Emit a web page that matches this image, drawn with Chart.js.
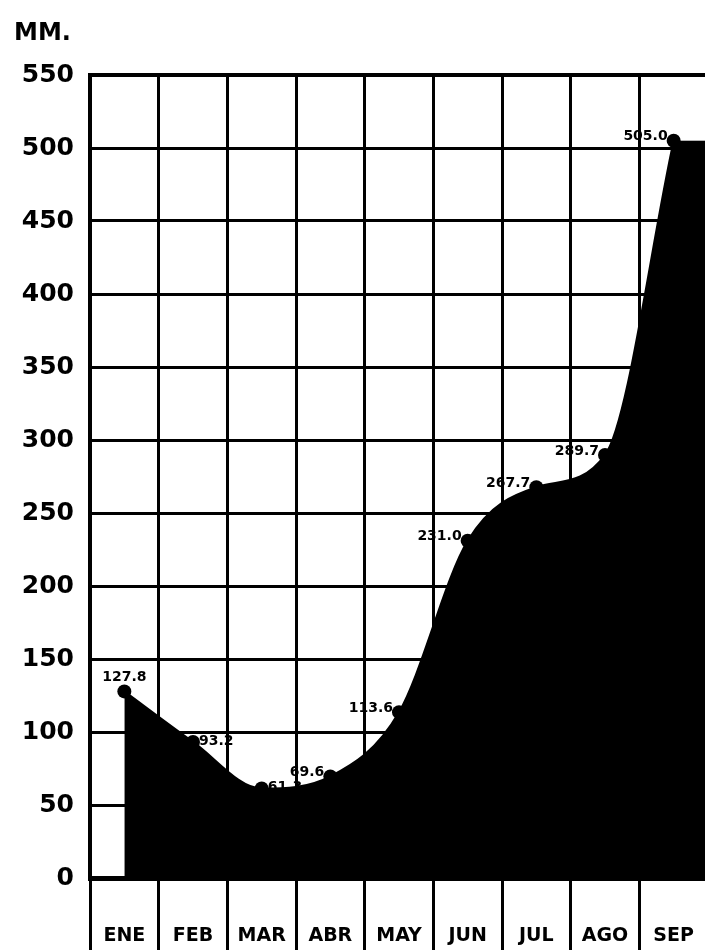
<!DOCTYPE html>
<html>
<head>
<meta charset="utf-8">
<script src="https://cdn.jsdelivr.net/npm/chart.js@4/dist/chart.umd.min.js"></script>
<style>
  html, body { margin: 0; padding: 0; background: #fff; overflow: hidden; }
  #wrap { width: 705px; height: 950px; overflow: hidden; }
</style>
</head>
<body>
<div id="wrap"><canvas id="rainChart" width="715" height="950"></canvas></div>
<script>
var months = ["ENE", "FEB", "MAR", "ABR", "MAY", "JUN", "JUL", "AGO", "SEP"];
var rainMm = [127.8, 93.2, 61.3, 69.6, 113.6, 231.0, 267.7, 289.7, 505.0];
var valueLabels = ["127.8", "93.2", "61.3", "69.6", "113.6", "231.0", "267.7", "289.7", "505.0"];
var yTicks = [0, 50, 100, 150, 200, 250, 300, 350, 400, 450, 500, 550];

document.addEventListener("DOMContentLoaded", function() {
  // the area keeps going past SEP in the original (page is cut there)
  var tailPlugin = {
    id: "tailFill",
    beforeDatasetsDraw: function(chart) {
      var meta = chart.getDatasetMeta(0);
      var last = meta.data[meta.data.length - 1];
      var area = chart.chartArea;
      var ctx = chart.ctx;
      ctx.save();
      ctx.fillStyle = "#000";
      ctx.fillRect(last.x - 2, last.y, area.right - last.x + 2, area.bottom - last.y);
      ctx.restore();
    }
  };

  // unit text and the little number next to each point
  var labelPlugin = {
    id: "pointLabels",
    afterDatasetsDraw: function(chart) {
      var ctx = chart.ctx;
      var meta = chart.getDatasetMeta(0);
      ctx.save();
      ctx.fillStyle = "#000";
      ctx.font = "bold 24px 'DejaVu Sans'";
      ctx.textAlign = "left";
      ctx.textBaseline = "middle";
      ctx.fillText("MM.", 14, 34);

      ctx.font = "bold 14px 'DejaVu Sans'";
      meta.data.forEach(function(pt, i) {
        var txt = valueLabels[i];
        if (i === 0) {
          ctx.textAlign = "center";
          ctx.fillText(txt, pt.x, pt.y - 14);
        } else if (rainMm[i - 1] > rainMm[i]) {
          ctx.textAlign = "left";
          ctx.fillText(txt, pt.x + 6, pt.y - 1);
        } else {
          ctx.textAlign = "right";
          ctx.fillText(txt, pt.x - 6, pt.y - 4);
        }
      });
      ctx.restore();
    }
  };

  var ctx = document.getElementById("rainChart").getContext("2d");
  new Chart(ctx, {
    type: "line",
    data: {
      labels: months,
      datasets: [{
        label: "MM.",
        data: rainMm,
        borderColor: "#000",
        backgroundColor: "#000",
        borderWidth: 2,
        fill: "origin",
        tension: 0.3,
        cubicInterpolationMode: "monotone",
        pointRadius: 7,
        pointBackgroundColor: "#000",
        pointBorderWidth: 0
      }]
    },
    options: {
      responsive: false,
      animation: false,
      layout: { padding: { top: 75, right: 3, left: 0, bottom: 0 } },
      plugins: {
        legend: { display: false },
        tooltip: { enabled: false }
      },
      scales: {
        x: {
          offset: true,
          afterFit: function(scale) { scale.height = 72; },
          grid: {
            offset: true,
            color: "#000",
            lineWidth: 3,
            tickColor: "#000",
            tickWidth: 3,
            tickLength: 72
          },
          border: { color: "#000", width: 5 },
          ticks: {
            color: "#000",
            padding: -25,
            maxRotation: 0,
            font: { family: "DejaVu Sans", size: 19, weight: "bold" }
          }
        },
        y: {
          min: 0,
          max: 550,
          afterFit: function(scale) { scale.width = 90; },
          afterBuildTicks: function(scale) {
            scale.ticks = yTicks.map(function(v) { return { value: v }; });
          },
          grid: {
            color: "#000",
            lineWidth: function(c) { return c.tick && c.tick.value === 550 ? 4 : 3; },
            drawTicks: false
          },
          border: { color: "#000", width: 4 },
          ticks: {
            color: "#000",
            padding: 16,
            font: { family: "DejaVu Sans", size: 25, weight: "bold" }
          }
        }
      }
    },
    plugins: [tailPlugin, labelPlugin]
  });
});
</script>
</body>
</html>
